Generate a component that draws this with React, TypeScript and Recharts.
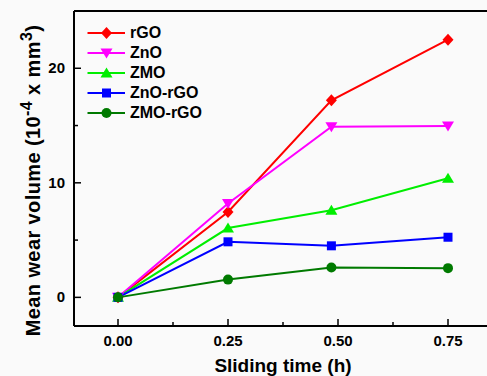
import React from 'react';
import { LineChart, Line, XAxis, YAxis, Legend, ReferenceLine } from 'recharts';

// values (x in hours, y in 10^-4 mm^3)
const TIMES = [0, 0.25, 0.485, 0.75];
const RGO = [0, 7.45, 17.2, 22.5];
const ZNO = [0, 8.2, 14.9, 14.95];
const ZMO = [0, 6.05, 7.6, 10.4];
const ZNO_RGO = [0, 4.85, 4.5, 5.25];
const ZMO_RGO = [0, 1.55, 2.6, 2.55];

const X_TICKS = [0, 0.125, 0.25, 0.375, 0.5, 0.625, 0.75];
const X_MAJOR = [0, 0.25, 0.5, 0.75];
const Y_TICKS = [0, 5, 10, 15, 20];
const Y_MAJOR = [0, 10, 20];

const FONT = '"Liberation Sans", Arial, sans-serif';

type Shape = 'diamond' | 'down' | 'up' | 'square' | 'circle';

const SERIES: { key: string; name: string; color: string; shape: Shape }[] = [
  { key: 'rgo', name: 'rGO', color: '#ff0000', shape: 'diamond' },
  { key: 'zno', name: 'ZnO', color: '#ff00ff', shape: 'down' },
  { key: 'zmo', name: 'ZMO', color: '#00ee00', shape: 'up' },
  { key: 'znoRgo', name: 'ZnO-rGO', color: '#0000ff', shape: 'square' },
  { key: 'zmoRgo', name: 'ZMO-rGO', color: '#007a00', shape: 'circle' },
];

const data = TIMES.map((t, i) => ({
  t,
  rgo: RGO[i],
  zno: ZNO[i],
  zmo: ZMO[i],
  znoRgo: ZNO_RGO[i],
  zmoRgo: ZMO_RGO[i],
}));

function Marker({ shape, cx, cy, color }: { shape: Shape; cx: number; cy: number; color: string }) {
  switch (shape) {
    case 'diamond':
      return <path d={`M${cx},${cy - 6}L${cx + 5.5},${cy}L${cx},${cy + 6}L${cx - 5.5},${cy}Z`} fill={color} />;
    case 'down':
      return <path d={`M${cx - 6},${cy - 4.5}L${cx + 6},${cy - 4.5}L${cx},${cy + 5.5}Z`} fill={color} />;
    case 'up':
      return <path d={`M${cx - 6},${cy + 4.5}L${cx + 6},${cy + 4.5}L${cx},${cy - 5.5}Z`} fill={color} />;
    case 'square':
      return <rect x={cx - 4.5} y={cy - 4.5} width={9} height={9} fill={color} />;
    default:
      return <circle cx={cx} cy={cy} r={5} fill={color} />;
  }
}

function XTick({ x, y, payload }: any) {
  const major = X_MAJOR.includes(payload.value);
  return (
    <g>
      <line x1={x} x2={x} y1={y} y2={y - (major ? 7 : 4)} stroke="#000" strokeWidth={1.5} />
      {major && (
        <text x={x} y={y + 20} textAnchor="middle" fontFamily={FONT} fontWeight={700} fontSize={15} fill="#000">
          {payload.value.toFixed(2)}
        </text>
      )}
    </g>
  );
}

function YTick({ x, y, payload }: any) {
  const major = Y_MAJOR.includes(payload.value);
  return (
    <g>
      <line x1={x} x2={x + (major ? 7 : 4)} y1={y} y2={y} stroke="#000" strokeWidth={1.5} />
      {major && (
        <text x={x - 9} y={y + 5} textAnchor="end" fontFamily={FONT} fontWeight={700} fontSize={15} fill="#000">
          {payload.value}
        </text>
      )}
    </g>
  );
}

function YTitle({ viewBox }: any) {
  const cx = 40;
  const cy = viewBox.y + viewBox.height / 2 + 12;
  return (
    <text
      x={cx}
      y={cy}
      transform={`rotate(-90, ${cx}, ${cy})`}
      textAnchor="middle"
      fontFamily={FONT}
      fontWeight={700}
      fontSize={20}
      letterSpacing={0.4}
      fill="#000"
    >
      Mean wear volume (10
      <tspan dy={-8} fontSize={16}>-4</tspan>
      <tspan dy={8}> x mm</tspan>
      <tspan dy={-8} fontSize={16}>3</tspan>
      <tspan dy={8}>)</tspan>
    </text>
  );
}

function XTitle({ viewBox }: any) {
  return (
    <text
      x={viewBox.x + viewBox.width / 2}
      y={371.5}
      textAnchor="middle"
      fontFamily={FONT}
      fontWeight={700}
      fontSize={19}
      fill="#000"
    >
      Sliding time (h)
    </text>
  );
}

function LegendBox() {
  return (
    <div style={{ fontFamily: FONT, fontWeight: 700, fontSize: 16, color: '#000' }}>
      {SERIES.map(s => (
        <div key={s.key} style={{ display: 'flex', alignItems: 'center', height: 20 }}>
          <svg width={40} height={20}>
            <line x1={1.5} x2={39} y1={10} y2={10} stroke={s.color} strokeWidth={2} />
            <Marker shape={s.shape} cx={20.5} cy={10} color={s.color} />
          </svg>
          <span style={{ marginLeft: 4, lineHeight: '20px' }}>{s.name}</span>
        </div>
      ))}
    </div>
  );
}

export default function App() {
  return (
    <div style={{ position: 'absolute', left: 0, top: 0, width: 487, height: 376, overflow: 'hidden', background: '#fafafa' }}>
      <LineChart width={500} height={376} data={data} margin={{ top: 11, right: 8, bottom: 0, left: 0 }}>
        <XAxis
          dataKey="t"
          type="number"
          domain={[-0.1, 0.85]}
          ticks={X_TICKS}
          interval={0}
          tickSize={0}
          tickMargin={0}
          tickLine={false}
          tick={<XTick />}
          axisLine={{ stroke: '#000', strokeWidth: 2 }}
          height={50}
          allowDataOverflow
          label={{ content: <XTitle /> }}
        />
        <YAxis
          type="number"
          domain={[-2.5, 25]}
          ticks={Y_TICKS}
          interval={0}
          tickSize={0}
          tickMargin={0}
          tickLine={false}
          tick={<YTick />}
          axisLine={{ stroke: '#000', strokeWidth: 2 }}
          width={74}
          allowDataOverflow
          label={{ content: <YTitle /> }}
        />
        <ReferenceLine y={25} stroke="#000" strokeWidth={2} />
        {/* centered + middle so the legend reserves no space; placed by wrapperStyle */}
        <Legend
          layout="vertical"
          verticalAlign="middle"
          align="center"
          content={<LegendBox />}
          wrapperStyle={{ position: 'absolute', left: 86, top: 23, width: 'auto', height: 'auto' }}
        />
        {SERIES.map(s => (
          <Line
            key={s.key}
            dataKey={s.key}
            name={s.name}
            stroke={s.color}
            strokeWidth={2}
            isAnimationActive={false}
            dot={(p: any) => <Marker key={`${s.key}-${p.index}`} shape={s.shape} cx={p.cx} cy={p.cy} color={s.color} />}
            activeDot={false}
          />
        ))}
      </LineChart>
    </div>
  );
}
